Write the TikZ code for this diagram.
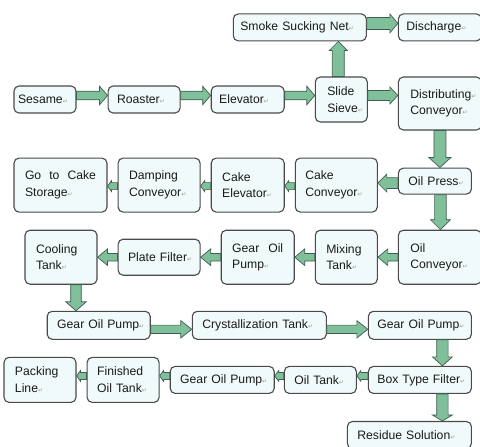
\documentclass[tikz,border=0pt]{standalone}
\usepackage{fontspec}
\setmainfont{Liberation Sans}
\newfontfamily\retfont{DejaVu Sans}
\usepackage{xcolor}
\usepackage{tikz}
\usetikzlibrary{
    positioning,
    calc
}

\definecolor{boxfill}{HTML}{F0FAFA}
\definecolor{boxline}{HTML}{4A4A4A}
\definecolor{flowfill}{HTML}{7FBF9A}
\definecolor{flowline}{HTML}{3E5E4E}
\definecolor{retgray}{HTML}{9A9A9A}

\newcommand{\retmark}{{\retfont\fontsize{6}{6}\selectfont\textcolor{retgray}{↵}}}
\newcommand{\spreadline}[2]{\leavevmode\hbox to #1{#2}}

\tikzset{
    stage/.style n args={3}{
        rectangle, draw=boxline, line width=1.1pt, fill=boxfill,
        rounded corners=5pt, inner ysep=0pt, inner xsep=0pt,
        minimum width=#1, minimum height=#2, text width=#1,
        execute at begin node={\raggedright\leftskip=#3\relax},
        font=\fontsize{12.2}{16.6}\selectfont, text=black!90
    },
    flow/.style={
        fill=flowfill, draw=flowline, line width=0.7pt, line join=miter
    },
    flow shaft/.store in=\flowshaft,
    flow head/.store in=\flowhead,
    flow len/.store in=\flowlen,
    flow shaft=5pt, flow head=9pt, flow len=9pt
}

% block arrow from a start point to the side of a node
\newcommand{\flowarrow}[4][]{%
    \begin{scope}[#1]
        \coordinate (fa) at (#2);
        \coordinate (fb) at (fa #3 #4);
        \coordinate (fc) at ($(fb)!\flowlen!(fa)$);
        \draw[flow] ($(fa)!\flowshaft!90:(fb)$) -- ($(fc)!\flowshaft!90:(fb)$)
            -- ($(fc)!\flowhead!90:(fb)$) -- (fb)
            -- ($(fc)!\flowhead!-90:(fb)$) -- ($(fc)!\flowshaft!-90:(fb)$)
            -- ($(fa)!\flowshaft!-90:(fb)$) -- cycle;
    \end{scope}}

\begin{document}
\begin{tikzpicture}[x=1pt, y=1pt]
    \useasboundingbox (0,0) rectangle (480,-447);

    % Seed line
    \node[stage={62pt}{27pt}{4pt}] (sesame) at (45,-99.5) {Sesame\retmark};
    \node[stage={72pt}{27pt}{9pt}, right=31pt of sesame] (roaster) {Roaster\retmark};
    \node[stage={73pt}{27pt}{8pt}, right=30pt of roaster] (elevator) {Elevator\retmark};
    \node[stage={52pt}{45pt}{12pt}, right=30pt of elevator] (sieve) {Slide\\Sieve\retmark};
    \node[stage={83pt}{53pt}{12pt}, right=30pt of sieve, yshift=-4pt] (distrib) {Distributing\retmark\\Conveyor\retmark};

    % Exhaust
    \node[stage={133pt}{27pt}{7pt}, above=35pt of sieve.north east, anchor=south east, xshift=-1pt] (smoke) {Smoke Sucking Net\retmark};
    \node[stage={83pt}{27pt}{8pt}, right=31pt of smoke] (discharge) {Discharge\retmark};

    % Pressing and cake
    \node[stage={73pt}{26pt}{10pt}, below=37pt of distrib.south west, anchor=north west] (oilpress) {Oil Press\retmark};
    \node[stage={82pt}{54pt}{10pt}, left=20pt of oilpress, yshift=-4pt] (cakeconv) {Cake\\Conveyor\retmark};
    \node[stage={73pt}{54pt}{11pt}, left=10pt of cakeconv] (cakeelev) {Cake\\Elevator\retmark};
    \node[stage={82pt}{54pt}{11pt}, left=10pt of cakeelev] (damping) {Damping\\Conveyor\retmark};
    \node[stage={93pt}{54pt}{11pt}, left=10pt of damping] (storage) {\spreadline{71pt}{Go\hfill to\hfill Cake}\\Storage\retmark};

    % Crude oil
    \node[stage={83pt}{54pt}{12pt}, below=35pt of oilpress.south west, anchor=north west] (oilconv) {Oil\\Conveyor\retmark};
    \node[stage={62pt}{54pt}{11pt}, left=20pt of oilconv] (mixing) {Mixing\\Tank\retmark};
    \node[stage={73pt}{54pt}{11pt}, left=20pt of mixing] (gearpump1) {\spreadline{51pt}{Gear\hfill Oil}\\Pump\retmark};
    \node[stage={82pt}{36pt}{10pt}, left=20pt of gearpump1] (platefilter) {Plate Filter\retmark};
    \node[stage={72pt}{54pt}{11pt}, left=20pt of platefilter] (cooling) {Cooling\\Tank\retmark};

    % Crystallization
    \node[stage={103pt}{28pt}{9pt}, below=26pt of oilconv.south east, anchor=north east, xshift=-10pt] (gearpump3) {Gear Oil Pump\retmark};
    \node[stage={134pt}{28pt}{10pt}, left=41pt of gearpump3] (crystal) {Crystallization Tank\retmark};
    \node[stage={103pt}{28pt}{10pt}, left=41pt of crystal] (gearpump2) {Gear Oil Pump\retmark};

    % Filtering and packing
    \node[stage={103pt}{27pt}{9pt}, below=26pt of gearpump3] (boxfilter) {Box Type Filter\retmark};
    \node[stage={72pt}{27pt}{10pt}, left=11pt of boxfilter] (oiltank) {Oil Tank\retmark};
    \node[stage={104pt}{27pt}{10pt}, left=9pt of oiltank] (gearpump4) {Gear Oil Pump\retmark};
    \node[stage={72pt}{45pt}{10pt}, left=10pt of gearpump4] (finished) {Finished\\Oil Tank\retmark};
    \node[stage={72pt}{45pt}{11pt}, left=10pt of finished] (packing) {Packing\\Line\retmark};
    \node[stage={124pt}{27pt}{10pt}, below=27pt of boxfilter.south east, anchor=north east] (residue) {Residue Solution\retmark};

    % Arrows
    \flowarrow[flow shaft=4.3pt, flow head=9.3pt, flow len=8pt]{[yshift=4pt]sesame.east}{-|}{roaster.west}
    \flowarrow[flow shaft=4.3pt, flow head=9.3pt, flow len=8pt]{[yshift=4pt]roaster.east}{-|}{elevator.west}
    \flowarrow[flow shaft=4.3pt, flow head=9.3pt, flow len=8pt]{[yshift=4pt]elevator.east}{-|}{sieve.west}
    \flowarrow[flow shaft=5pt, flow head=8.5pt, flow len=8pt]{[yshift=4pt]sieve.east}{-|}{distrib.west}
    \flowarrow[flow shaft=6pt, flow head=9pt, flow len=9pt]{[xshift=-3pt]sieve.north}{|-}{smoke.south}
    \flowarrow[flow shaft=6pt, flow head=9.5pt, flow len=8pt]{[yshift=4pt]smoke.east}{-|}{discharge.west}
    \flowarrow[flow shaft=6pt, flow head=11pt, flow len=10pt]{distrib.south}{|-}{oilpress.north}
    \flowarrow[flow shaft=5.3pt, flow head=9pt, flow len=9pt]{[yshift=-2pt]oilpress.west}{-|}{cakeconv.east}
    \flowarrow[flow shaft=3.5pt, flow head=5.5pt, flow len=4pt]{[yshift=-1pt]cakeconv.west}{-|}{cakeelev.east}
    \flowarrow[flow shaft=3.5pt, flow head=5.5pt, flow len=4pt]{[yshift=-1pt]cakeelev.west}{-|}{damping.east}
    \flowarrow[flow shaft=3.5pt, flow head=5.5pt, flow len=4pt]{[yshift=-1pt]damping.west}{-|}{storage.east}
    \flowarrow[flow shaft=5.8pt, flow head=10pt, flow len=10pt]{[xshift=5.5pt]oilpress.south}{|-}{oilconv.north}
    \flowarrow[flow shaft=3.8pt, flow head=8.3pt, flow len=10pt]{oilconv.west}{-|}{mixing.east}
    \flowarrow[flow shaft=3.8pt, flow head=8.3pt, flow len=10pt]{mixing.west}{-|}{gearpump1.east}
    \flowarrow[flow shaft=3.8pt, flow head=8.3pt, flow len=10pt]{gearpump1.west}{-|}{platefilter.east}
    \flowarrow[flow shaft=3.8pt, flow head=8.3pt, flow len=10pt]{platefilter.west}{-|}{cooling.east}
    \flowarrow[flow shaft=5.3pt, flow head=10.3pt, flow len=9pt]{[xshift=15pt]cooling.south}{|-}{gearpump2.north}
    \flowarrow[flow shaft=4.2pt, flow head=8.7pt, flow len=11pt]{[yshift=-4pt]gearpump2.east}{-|}{crystal.west}
    \flowarrow[flow shaft=4.2pt, flow head=8.7pt, flow len=11pt]{[yshift=-4pt]crystal.east}{-|}{gearpump3.west}
    \flowarrow[flow shaft=5.7pt, flow head=10pt, flow len=9pt]{[xshift=22.5pt]gearpump3.south}{|-}{boxfilter.north}
    \flowarrow[flow shaft=3.5pt, flow head=5.5pt, flow len=4pt]{[yshift=4pt]boxfilter.west}{-|}{oiltank.east}
    \flowarrow[flow shaft=3.5pt, flow head=5.5pt, flow len=4pt]{[yshift=4pt]oiltank.west}{-|}{gearpump4.east}
    \flowarrow[flow shaft=3.5pt, flow head=5.5pt, flow len=4pt]{[yshift=4pt]gearpump4.west}{-|}{finished.east}
    \flowarrow[flow shaft=3.5pt, flow head=5.5pt, flow len=4pt]{[yshift=4pt]finished.west}{-|}{packing.east}
    \flowarrow[flow shaft=5.7pt, flow head=10pt, flow len=6pt]{[xshift=22.5pt]boxfilter.south}{|-}{residue.north}

\end{tikzpicture}
\end{document}
